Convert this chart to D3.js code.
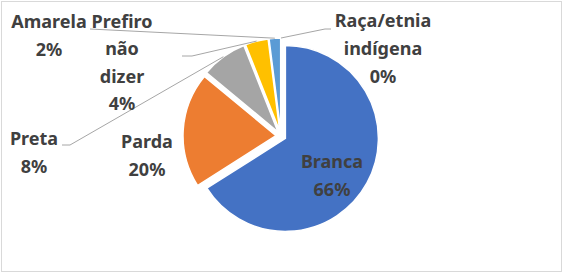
<!DOCTYPE html>
<html>
<head>
<meta charset="utf-8">
<script src="https://cdn.jsdelivr.net/npm/d3@7"></script>
<style>
  body { margin: 0; background: #fff; }
  text { font-family: "Noto Sans", "Liberation Sans", sans-serif; font-weight: bold; }
</style>
</head>
<body>
<svg width="563" height="273"></svg>
<script>
// data
var categories = ["Branca", "Parda", "Preta", "Prefiro não dizer", "Amarela", "Raça/etnia indígena"],
    values = [66, 20, 8, 4, 2, 0],
    labelLines = [["Branca"], ["Parda"], ["Preta"], ["Prefiro", "não", "dizer"], ["Amarela"], ["Raça/etnia", "indígena"]],
    colors = ["#4472C4", "#ED7D31", "#A5A5A5", "#FFC000", "#5B9BD5", "#70AD47"];

var svg = d3.select("svg"),
    width = +svg.attr("width"),
    height = +svg.attr("height"),
    cx = 281, cy = 136,
    radius = 93,
    explode = 5,
    lineH = 28;

// label placement (center x, first baseline) and leader start points
var labelPos = [
  {x: 332, y: 168},
  {x: 147, y: 148},
  {x: 34, y: 145, leader: [[62, 145], [70, 145]]},
  {x: 122, y: 28, lh: 27.4, leader: [[182, 56], [192, 56]]},
  {x: 49, y: 28, leader: [[90, 29]]},
  {x: 383, y: 27, leader: [[331, 29], [325, 29]]}
];

svg.append("rect")
  .attr("x", 1.5).attr("y", 1.5)
  .attr("width", width - 3).attr("height", height - 3)
  .attr("fill", "#fff").attr("stroke", "#d9d9d9");

var pie = d3.pie().sort(null).value(function(d) { return d; });
var arcs = pie(values);
var arc = d3.arc().innerRadius(0).outerRadius(radius);

var g = svg.append("g").attr("transform", "translate(" + cx + "," + cy + ")");

function offset(d, dist) {
  var a = (d.startAngle + d.endAngle) / 2;
  return [Math.sin(a) * dist, -Math.cos(a) * dist];
}

g.selectAll(".slice")
  .data(arcs)
  .enter().append("path")
    .attr("class", "slice")
    .attr("transform", function(d) { var o = offset(d, explode); return "translate(" + o + ")"; })
    .attr("d", arc)
    .attr("fill", function(d, i) { return colors[i]; })
    .attr("stroke", "#fff")
    .attr("stroke-width", 1.5);

// leader lines
var line = d3.line();
svg.append("g").selectAll("path")
  .data(arcs.filter(function(d, i) { return labelPos[i].leader; }))
  .enter().append("path")
    .attr("fill", "none")
    .attr("stroke", "#a6a6a6")
    .attr("stroke-width", 1)
    .attr("d", function(d) {
      var i = d.index, o = offset(d, explode + radius);
      var pts = labelPos[i].leader.concat([[cx + o[0], cy + o[1]]]);
      return line(pts);
    });

// labels
var lab = svg.append("g").selectAll("text")
  .data(arcs)
  .enter().append("text")
    .attr("text-anchor", "middle")
    .attr("fill", "#404040")
    .style("font-size", "18px");

lab.each(function(d, i) {
  var p = labelPos[i], lh = p.lh || lineH,
      lines = labelLines[i].concat([Math.round(values[i]) + "%"]);
  d3.select(this).selectAll("tspan")
    .data(lines)
    .enter().append("tspan")
      .attr("x", p.x)
      .attr("y", function(t, k) { return p.y + k * lh; })
      .text(function(t) { return t; });
});
</script>
</body>
</html>
